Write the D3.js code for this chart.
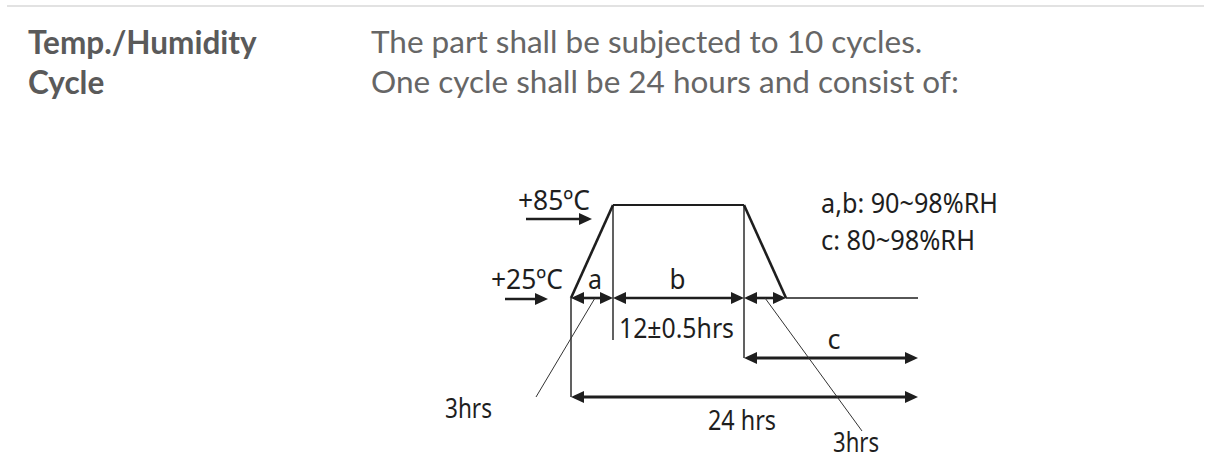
<!DOCTYPE html>
<html>
<head>
<meta charset="utf-8">
<script src="https://cdn.jsdelivr.net/npm/d3@7"></script>
<style>
  html, body { margin: 0; padding: 0; background: #fff; }
  svg { display: block; }
</style>
</head>
<body>
<div id="chart"></div>
<script>
// Ciclo de temperatura/umidade: um ciclo de 24 h desenhado como perfil trapezoidal.
const HOURS = [0, 3, 15, 18, 24];         // pontos de quebra do ciclo (h)
const TEMPS = [25, 85, 85, 25, 25];       // temperatura em cada ponto (ºC)
const TEMP_LEVELS = [85, 25];
const TEMP_LABELS = ["+85ºC", "+25ºC"];
const PHASE_FROM = [0, 3, 15];
const PHASE_TO = [3, 15, 18];
const PHASE_LABELS = ["a", "b", ""];
const SPAN_FROM = [15, 0];
const SPAN_TO = [24, 24];
const SPAN_LABELS = ["c", "24 hrs"];
const RH_NOTES = ["a,b: 90~98%RH", "c: 80~98%RH"];
const HEAD_LINES = ["Temp./Humidity", "Cycle"];
const BODY_LINES = ["The part shall be subjected to 10 cycles.", "One cycle shall be 24 hours and consist of:"];

const W = 1213, H = 456;
const INK = "#1e1e1e";
const DFONT = "'Noto Sans', 'DejaVu Sans', sans-serif";

const svg = d3.select("#chart").append("svg")
  .attr("width", W).attr("height", H).attr("viewBox", `0 0 ${W} ${H}`);

// régua cinza no topo
svg.append("line")
  .attr("x1", 7).attr("x2", 1204).attr("y1", 6).attr("y2", 6)
  .attr("stroke", "#e2e2e2").attr("stroke-width", 2);

// texto do cabeçalho (Lato)
svg.selectAll("text.head").data(HEAD_LINES).join("text")
  .attr("class", "head")
  .attr("x", 28).attr("y", (d, i) => 54 + i * 40)
  .attr("font-family", "Lato, sans-serif").attr("font-weight", 700)
  .attr("font-size", 31.5).attr("fill", "#5a5a5a")
  .text((d) => d);

svg.selectAll("text.body").data(BODY_LINES).join("text")
  .attr("class", "body")
  .attr("x", 371).attr("y", (d, i) => 53 + i * 40)
  .attr("font-family", "Lato, sans-serif")
  .attr("font-size", 31.5).attr("fill", "#666")
  .text((d) => d);

// escalas: tempo é polilinear (o desenho não é proporcional às horas)
const x = d3.scaleLinear().domain(HOURS).range([571, 613, 744, 786, 918]);
const y = d3.scaleLinear().domain([25, 85]).range([298, 205]);

const rowPhase = y(25);
const rowSpan = [358, 397];

const g = svg.append("g");

function arrowHead(px, py, dir) {
  // dir = +1 aponta para a direita, -1 para a esquerda
  const L = 13, h = 6;
  g.append("path")
    .attr("d", `M${px},${py} L${px - dir * L},${py - h} L${px - dir * L},${py + h} Z`)
    .attr("fill", INK);
}

function dimArrow(x1, x2, yy, width) {
  g.append("line")
    .attr("x1", x1 + 6).attr("x2", x2 - 6).attr("y1", yy).attr("y2", yy)
    .attr("stroke", INK).attr("stroke-width", width);
  arrowHead(x1, yy, -1);
  arrowHead(x2, yy, 1);
}

function label(txt, px, py, len, anchor) {
  g.append("text")
    .attr("x", px).attr("y", py)
    .attr("text-anchor", anchor || "start")
    .attr("font-family", DFONT).attr("font-size", 27)
    .attr("fill", INK)
    .attr("textLength", len).attr("lengthAdjust", "spacingAndGlyphs")
    .text(txt);
}

// perfil de temperatura
const pts = HOURS.map((h, i) => [x(h), y(TEMPS[i])]);
for (let i = 0; i < pts.length - 1; i++) {
  const flat = TEMPS[i] === TEMPS[i + 1];
  g.append("line")
    .attr("x1", pts[i][0]).attr("y1", pts[i][1])
    .attr("x2", pts[i + 1][0]).attr("y2", pts[i + 1][1])
    .attr("stroke", INK)
    .attr("stroke-width", flat ? (TEMPS[i] === 85 ? 2 : 1.4) : 2.6);
}

// linhas de chamada verticais
g.append("line").attr("x1", x(0)).attr("x2", x(0)).attr("y1", y(25)).attr("y2", rowSpan[1])
  .attr("stroke", INK).attr("stroke-width", 1.4);
g.append("line").attr("x1", x(3)).attr("x2", x(3)).attr("y1", y(85)).attr("y2", 340)
  .attr("stroke", INK).attr("stroke-width", 1.4);
g.append("line").attr("x1", x(15)).attr("x2", x(15)).attr("y1", y(85)).attr("y2", rowSpan[0])
  .attr("stroke", INK).attr("stroke-width", 1.4);

// setas das fases a / b / descida
PHASE_FROM.forEach((f, i) => {
  dimArrow(x(f), x(PHASE_TO[i]), rowPhase, 2.6);
  if (PHASE_LABELS[i]) {
    const w = PHASE_LABELS[i] === "a" ? 14 : 16;
    label(PHASE_LABELS[i], (x(f) + x(PHASE_TO[i])) / 2 + (i === 0 ? 3 : -1), rowPhase - 9, w, "middle");
  }
});

// setas c e 24 hrs
SPAN_FROM.forEach((f, i) => {
  dimArrow(x(f), x(SPAN_TO[i]), rowSpan[i], 3);
});
label(SPAN_LABELS[0], 834, rowSpan[0] - 9, 13, "middle");
label(SPAN_LABELS[1], 708, 430, 68);

// marcadores de temperatura
TEMP_LEVELS.forEach((t, i) => {
  const endX = i === 0 ? 590 : 563;
  label(TEMP_LABELS[i], endX, y(t) + (i === 0 ? 5 : -9), 72, "end");
  const ay = i === 0 ? 219 : y(t) + 1;
  const x1 = i === 0 ? 526 : 505, x2 = i === 0 ? 592 : 548;
  g.append("line").attr("x1", x1).attr("x2", x2 - 6).attr("y1", ay).attr("y2", ay)
    .attr("stroke", INK).attr("stroke-width", 2.6);
  arrowHead(x2, ay, 1);
});

// 12±0.5hrs
label("12±0.5hrs", x(3) + 6, 338, 115);

// notas de umidade
RH_NOTES.forEach((t, i) => label(t, 821, 213 + i * 37, i === 0 ? 177 : 154));

// linhas de chamada "3hrs"
g.append("line").attr("x1", x(1.5) + 3).attr("y1", rowPhase).attr("x2", 536).attr("y2", 397)
  .attr("stroke", "#333").attr("stroke-width", 1);
label("3hrs", 445, 418, 47);
g.append("line").attr("x1", x(16.5)).attr("y1", rowPhase).attr("x2", 862).attr("y2", 431)
  .attr("stroke", "#333").attr("stroke-width", 1);
label("3hrs", 833, 452, 46);
</script>
</body>
</html>
